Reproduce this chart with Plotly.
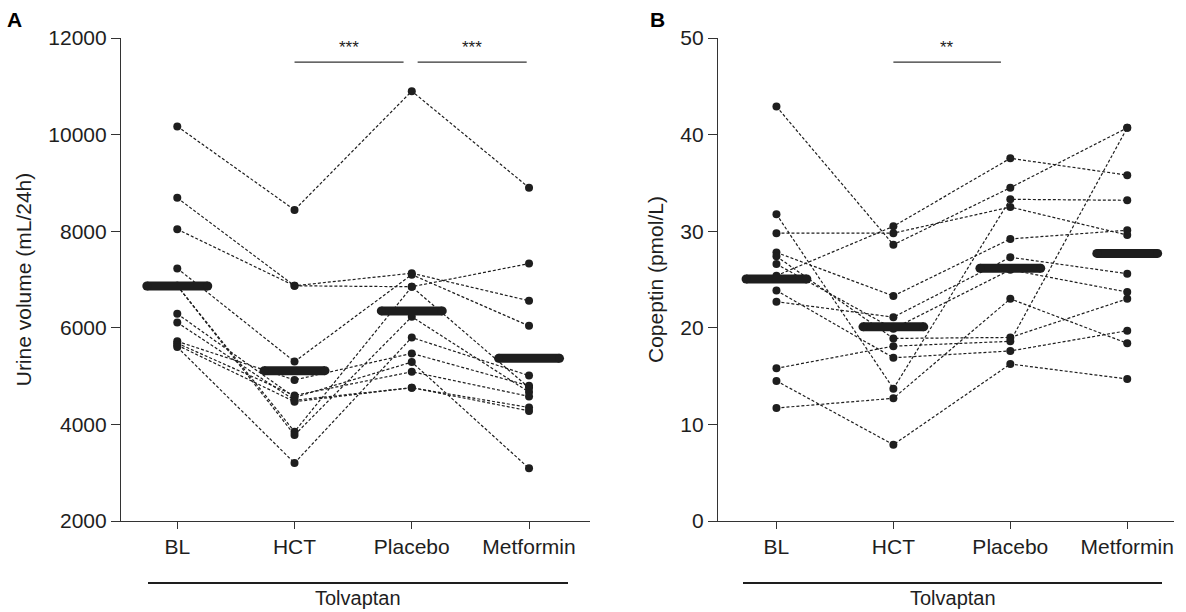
import plotly.graph_objects as go

W, H = 1186, 612

categories = ["BL", "HCT", "Placebo", "Metformin"]

# Panel A: urine volume (mL/24h), one list per time point, subjects in the same order
urine_bl = [10170, 8690, 8040, 7230, 6870, 6870, 6290, 6110, 5720, 5680, 5640, 5600]
urine_hct = [8440, 6870, 6870, 5300, 3850, 3780, 4560, 4500, 4920, 4600, 4470, 3200]
urine_placebo = [10900, 7130, 6850, 7100, 6850, 6230, 5290, 4760, 5470, 5090, 4760, 5800]
urine_metformin = [8900, 6560, 7330, 6040, 4760, 4670, 3090, 4350, 4800, 4580, 4280, 5010]
urine_means = [6866, 5113, 6349, 5368]

# Panel B: copeptin (pmol/L)
cop_bl = [42.9, 31.75, 29.8, 27.8, 27.4, 26.6, 25.4, 23.85, 22.7, 15.8, 14.5, 11.7]
cop_hct = [28.6, 13.7, 29.8, 23.3, 18.9, 19.9, 30.5, 16.9, 21.1, 18.1, 7.9, 12.7]
cop_placebo = [34.5, 33.3, 32.5, 29.2, 19.0, 26.0, 37.55, 17.6, 27.3, 18.6, 16.25, 23.0]
cop_metformin = [40.7, 33.2, 29.6, 30.1, 23.0, 23.7, 35.8, 19.7, 25.6, 40.7, 14.7, 18.4]
cop_means = [25.05, 20.1, 26.16, 27.7]

y_ticks_a = [2000, 4000, 6000, 8000, 10000, 12000]
y_ticks_b = [0, 10, 20, 30, 40, 50]

INK = "#1e1e1e"
FONT = "Liberation Sans, Arial, Helvetica, sans-serif"
BAR_HALF = 0.26

fig = go.Figure()


def add_panel(series, means, xa, ya):
    xs = list(range(len(categories)))
    n = len(series[0])
    for s in range(n):
        fig.add_trace(go.Scatter(
            x=xs, y=[series[k][s] for k in range(len(series))],
            mode="lines+markers", xaxis=xa, yaxis=ya,
            line=dict(color=INK, width=1.2, dash="3px,2px"),
            marker=dict(color=INK, size=8),
            showlegend=False, hoverinfo="skip"))
    for i, m in enumerate(means):
        fig.add_trace(go.Scatter(
            x=[i - BAR_HALF, i + BAR_HALF], y=[m, m], mode="lines+markers",
            xaxis=xa, yaxis=ya,
            line=dict(color=INK, width=9),
            marker=dict(color=INK, size=9),
            showlegend=False, hoverinfo="skip"))


add_panel([urine_bl, urine_hct, urine_placebo, urine_metformin], urine_means, "x", "y")
add_panel([cop_bl, cop_hct, cop_placebo, cop_metformin], cop_means, "x2", "y2")

y_dom = [1 - 521 / H, 1 - 38 / H]
axis_common = dict(showline=True, linecolor="#333333", linewidth=1.2,
                   ticks="outside", tickcolor="#333333", tickwidth=1.2,
                   showgrid=False, zeroline=False, automargin=False,
                   tickfont=dict(family=FONT, size=21, color=INK))

fig.update_layout(
    template="none",
    width=W, height=H, margin=dict(l=0, r=0, t=0, b=0, pad=0), autosize=False,
    paper_bgcolor="white", plot_bgcolor="white", showlegend=False,
    font=dict(family=FONT, color=INK),
    xaxis=dict(domain=[121 / W, 590 / W], range=[-0.48, 3.52],
               tickvals=[0, 1, 2, 3], ticktext=categories, ticklen=7,
               anchor="y", **axis_common),
    yaxis=dict(domain=y_dom, range=[2000, 12000], tickvals=y_ticks_a,
               ticktext=[str(v) for v in y_ticks_a],
               ticklen=9, anchor="x",
               title=dict(text="Urine volume (mL/24h)", standoff=10,
                          font=dict(family=FONT, size=21, color=INK)),
               **axis_common),
    xaxis2=dict(domain=[718 / W, 1174 / W], range=[-0.5, 3.4],
                tickvals=[0, 1, 2, 3], ticktext=categories, ticklen=7,
                anchor="y2", **axis_common),
    yaxis2=dict(domain=y_dom, range=[0, 50], tickvals=y_ticks_b,
                ticktext=[str(v) for v in y_ticks_b],
                ticklen=9, anchor="x2",
                title=dict(text="Copeptin (pmol/L)", standoff=10,
                           font=dict(family=FONT, size=21, color=INK)),
                **axis_common),
)

shapes = []
annotations = []

# significance brackets
for (x0, x1, y, xa, ya, txt) in [
    (1.0, 1.93, 11500, "x", "y", "***"),
    (2.05, 2.98, 11500, "x", "y", "***"),
    (1.0, 1.92, 47.5, "x2", "y2", "**"),
]:
    shapes.append(dict(type="line", xref=xa, yref=ya, x0=x0, x1=x1, y0=y, y1=y,
                       line=dict(color="#333333", width=1.2)))
    annotations.append(dict(xref=xa, yref=ya, x=(x0 + x1) / 2, y=y, text=txt,
                            showarrow=False, yanchor="bottom", yshift=3,
                            font=dict(family=FONT, size=17, color=INK)))

# Tolvaptan group lines
for (p0, p1) in [(148, 568), (743, 1162)]:
    shapes.append(dict(type="line", xref="paper", yref="paper",
                       x0=p0 / W, x1=p1 / W, y0=1 - 583 / H, y1=1 - 583 / H,
                       line=dict(color=INK, width=2)))
    annotations.append(dict(xref="paper", yref="paper", x=(p0 + p1) / 2 / W,
                            y=1 - 598 / H, text="Tolvaptan", showarrow=False,
                            xanchor="center", yanchor="middle",
                            font=dict(family=FONT, size=20, color=INK)))

# panel letters
for (px, letter) in [(14, "A"), (657, "B")]:
    annotations.append(dict(xref="paper", yref="paper", x=px / W, y=1 - 20 / H,
                            text="<b>%s</b>" % letter, showarrow=False,
                            xanchor="center", yanchor="middle",
                            font=dict(family=FONT, size=21, color="#000000")))

fig.update_layout(shapes=shapes, annotations=annotations)
fig.write_html("out.html", config={"displayModeBar": False},
               post_script="document.body.style.margin='0';document.body.style.overflow='hidden';")
